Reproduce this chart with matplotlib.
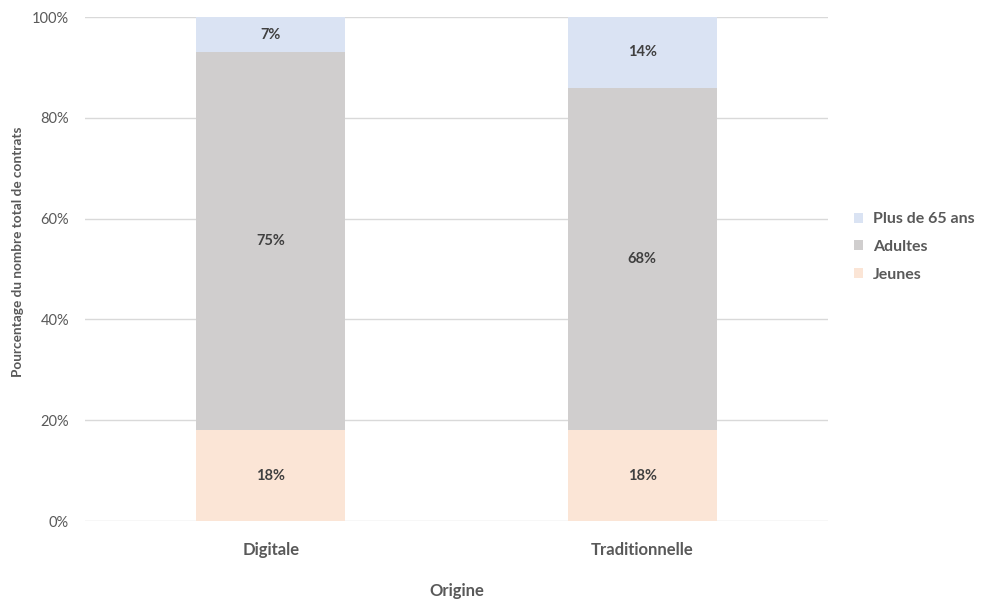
import matplotlib.pyplot as plt
import numpy as np

# Répartition des contrats par tranche d'âge, selon l'origine
origines = ["Digitale", "Traditionnelle"]
jeunes = [18, 18]
adultes = [75, 68]
seniors = [7, 14]

series = [
    ("Jeunes", jeunes, "#FBE5D6"),
    ("Adultes", adultes, "#D0CECE"),
    ("Plus de 65 ans", seniors, "#DAE3F3"),
]

TEXT = "#595959"
plt.rcParams["font.family"] = ["Lato", "DejaVu Sans"]

fig = plt.figure(figsize=(9.84, 6.01), dpi=100)
ax = fig.add_axes([0.0864, 0.1331, 0.7551, 0.8386])

x = np.arange(len(origines))
bottom = np.zeros(len(origines))
handles = []
for name, vals, color in series:
    vals = np.array(vals, dtype=float)
    bars = ax.bar(x, vals, 0.4, bottom=bottom, color=color, label=name, zorder=2)
    handles.append(bars)
    for xi, b, v in zip(x, bottom, vals):
        ax.text(xi, b + v / 2, f"{v:.0f}%", ha="center", va="center",
                fontsize=10.5, fontweight="bold", color="#404040", zorder=3)
    bottom += vals

ax.set_xlim(-0.5, 1.5)
ax.set_ylim(0, 100)
ax.set_yticks(range(0, 101, 20))
ax.set_yticklabels([f"{t}%" for t in range(0, 101, 20)], fontsize=10.5, color=TEXT)
ax.set_xticks(x)
ax.set_xticklabels(origines, fontsize=12, fontweight="bold", color=TEXT)
ax.tick_params(length=0)
ax.tick_params(axis="x", pad=15)
ax.tick_params(axis="y", pad=11.5)
ax.grid(axis="y", color="#D9D9D9", linewidth=1, zorder=0)
for s in ax.spines.values():
    s.set_visible(False)

ax.set_xlabel("Origine", fontsize=12, fontweight="bold", color=TEXT, labelpad=18)
ax.set_ylabel("Pourcentage du nombre total de contrats", fontsize=9.8,
              fontweight="bold", color=TEXT)
ax.yaxis.set_label_coords(-0.082, 0.534)

leg = fig.legend(handles[::-1], [s[0] for s in series][::-1],
                 loc="center left", bbox_to_anchor=(0.853, 0.589),
                 frameon=False, handlelength=0.6, handleheight=0.6,
                 handletextpad=0.6, labelspacing=0.85,
                 prop={"size": 11.5, "weight": "bold"})
for t in leg.get_texts():
    t.set_color(TEXT)

fig.savefig("out.png", dpi=100)
